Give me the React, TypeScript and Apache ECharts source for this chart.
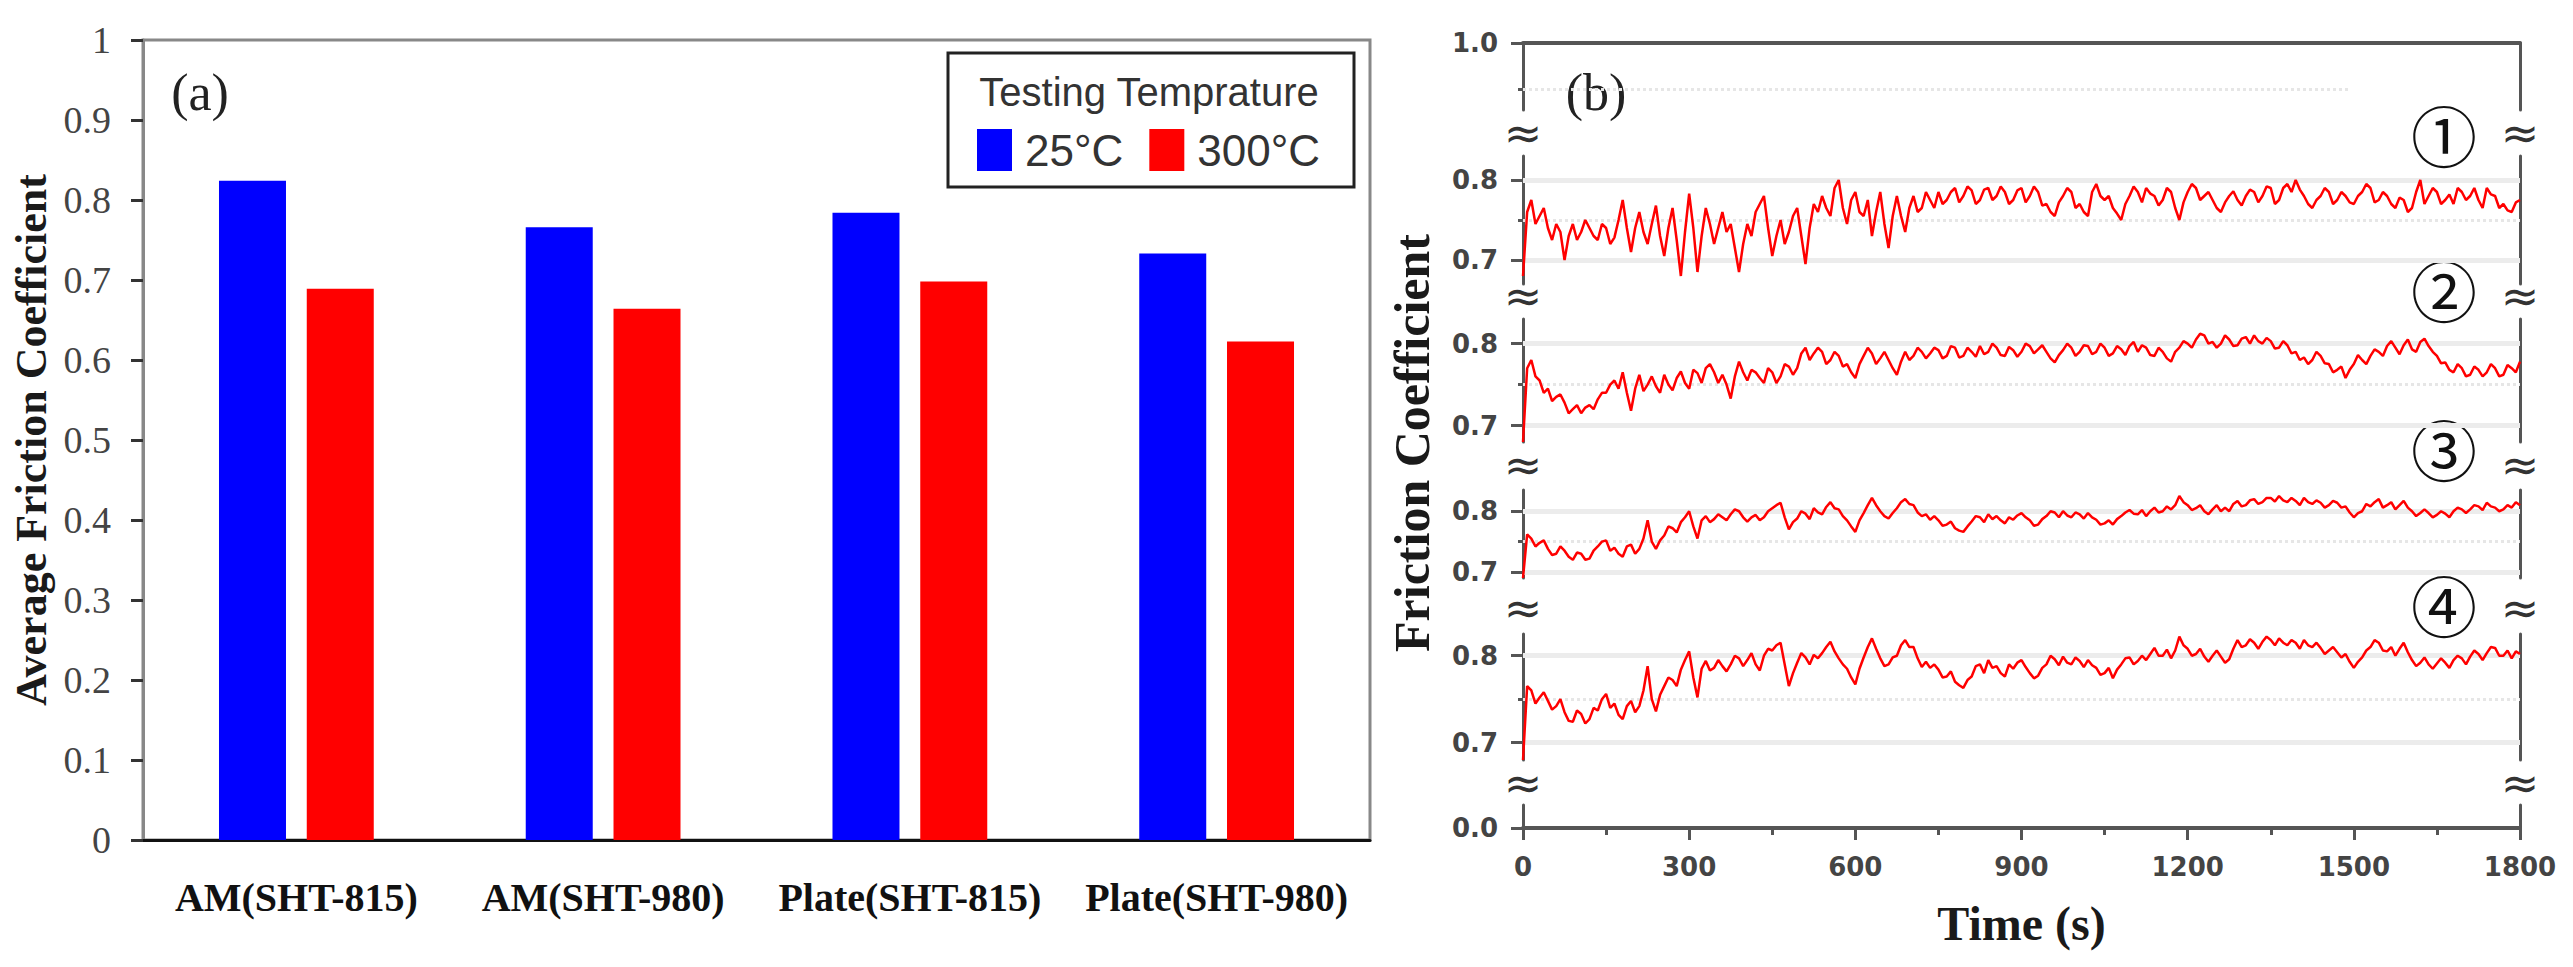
import React, { useEffect, useRef } from 'react';
import * as echarts from 'echarts';

// (a) average friction coefficient per sample
const categories = ['AM(SHT-815)', 'AM(SHT-980)', 'Plate(SHT-815)', 'Plate(SHT-980)'];
const seriesNames = ['25°C', '300°C'];
const avgAt25 = [0.824, 0.766, 0.784, 0.733];
const avgAt300 = [0.689, 0.664, 0.698, 0.623];

// (b) friction traces, one value every 7.5 s from 0 to 1800 s
const sampleStep = 7.5;
const trace1 = [
  0.68, 0.76, 0.775, 0.745, 0.755, 0.765, 0.74, 0.725, 0.745, 0.735, 0.70, 0.73, 0.745, 0.725, 0.735, 0.75, 0.74, 0.73, 0.725, 0.745,
  0.74, 0.72, 0.728, 0.75, 0.775, 0.74, 0.71, 0.74, 0.76, 0.735, 0.72, 0.745, 0.768, 0.73, 0.705, 0.74, 0.765, 0.725, 0.68, 0.735,
  0.783, 0.74, 0.685, 0.73, 0.765, 0.745, 0.72, 0.74, 0.76, 0.735, 0.745, 0.715, 0.685, 0.72, 0.745, 0.73, 0.76, 0.77, 0.78, 0.74,
  0.705, 0.73, 0.75, 0.72, 0.735, 0.755, 0.765, 0.73, 0.695, 0.74, 0.77, 0.76, 0.78, 0.765, 0.755, 0.79, 0.80, 0.765, 0.745, 0.775,
  0.785, 0.76, 0.755, 0.775, 0.73, 0.76, 0.785, 0.745, 0.715, 0.755, 0.78, 0.755, 0.735, 0.765, 0.78, 0.76, 0.765, 0.785, 0.775, 0.765,
  0.785, 0.77, 0.775, 0.785, 0.79, 0.772, 0.78, 0.792, 0.787, 0.77, 0.775, 0.788, 0.79, 0.775, 0.78, 0.792, 0.785, 0.77, 0.775, 0.787,
  0.79, 0.772, 0.78, 0.792, 0.785, 0.768, 0.77, 0.76, 0.755, 0.772, 0.78, 0.79, 0.785, 0.765, 0.77, 0.76, 0.755, 0.785, 0.795, 0.78,
  0.775, 0.78, 0.765, 0.758, 0.75, 0.77, 0.78, 0.792, 0.785, 0.772, 0.79, 0.783, 0.78, 0.768, 0.775, 0.79, 0.785, 0.765, 0.75, 0.772,
  0.785, 0.795, 0.79, 0.775, 0.78, 0.785, 0.775, 0.765, 0.76, 0.772, 0.78, 0.786, 0.775, 0.768, 0.78, 0.788, 0.785, 0.772, 0.78, 0.792,
  0.79, 0.77, 0.775, 0.79, 0.795, 0.785, 0.80, 0.788, 0.78, 0.77, 0.765, 0.775, 0.78, 0.79, 0.785, 0.77, 0.775, 0.785, 0.78, 0.772,
  0.77, 0.78, 0.785, 0.795, 0.79, 0.772, 0.775, 0.785, 0.78, 0.77, 0.765, 0.778, 0.775, 0.76, 0.765, 0.785, 0.80, 0.77, 0.78, 0.79,
  0.785, 0.77, 0.775, 0.782, 0.77, 0.79, 0.785, 0.775, 0.78, 0.79, 0.775, 0.765, 0.79, 0.782, 0.78, 0.765, 0.77, 0.762, 0.76, 0.772,
  0.775,
];
const trace2 = [
  0.68, 0.77, 0.78, 0.76, 0.755, 0.74, 0.745, 0.73, 0.735, 0.738, 0.728, 0.715, 0.72, 0.725, 0.715, 0.722, 0.725, 0.72, 0.732, 0.74,
  0.74, 0.75, 0.755, 0.745, 0.765, 0.74, 0.718, 0.745, 0.762, 0.742, 0.75, 0.76, 0.748, 0.74, 0.762, 0.75, 0.743, 0.758, 0.766, 0.752,
  0.745, 0.768, 0.764, 0.752, 0.77, 0.775, 0.765, 0.752, 0.762, 0.75, 0.733, 0.76, 0.778, 0.765, 0.755, 0.768, 0.765, 0.758, 0.752, 0.77,
  0.765, 0.752, 0.76, 0.775, 0.772, 0.762, 0.77, 0.788, 0.795, 0.78, 0.788, 0.795, 0.79, 0.775, 0.78, 0.79, 0.785, 0.772, 0.775, 0.765,
  0.758, 0.775, 0.785, 0.795, 0.788, 0.775, 0.782, 0.79, 0.78, 0.77, 0.762, 0.778, 0.79, 0.78, 0.785, 0.795, 0.79, 0.782, 0.788, 0.795,
  0.792, 0.782, 0.785, 0.797, 0.795, 0.783, 0.785, 0.795, 0.79, 0.784, 0.797, 0.787, 0.79, 0.80, 0.795, 0.786, 0.785, 0.796, 0.792, 0.784,
  0.79, 0.80, 0.797, 0.788, 0.793, 0.798, 0.79, 0.782, 0.777, 0.786, 0.792, 0.80, 0.795, 0.785, 0.79, 0.798, 0.797, 0.787, 0.79, 0.80,
  0.795, 0.785, 0.788, 0.797, 0.793, 0.786, 0.797, 0.802, 0.79, 0.798, 0.795, 0.786, 0.785, 0.795, 0.79, 0.782, 0.778, 0.79, 0.795, 0.803,
  0.80, 0.795, 0.805, 0.812, 0.81, 0.80, 0.802, 0.795, 0.80, 0.81, 0.805, 0.797, 0.798, 0.806, 0.808, 0.80, 0.81, 0.803, 0.80, 0.807,
  0.803, 0.794, 0.795, 0.803, 0.798, 0.788, 0.79, 0.78, 0.783, 0.775, 0.78, 0.79, 0.785, 0.776, 0.775, 0.765, 0.768, 0.772, 0.758, 0.768,
  0.775, 0.786, 0.78, 0.775, 0.785, 0.793, 0.79, 0.785, 0.797, 0.803, 0.795, 0.787, 0.798, 0.805, 0.793, 0.79, 0.802, 0.806, 0.797, 0.79,
  0.785, 0.776, 0.777, 0.768, 0.765, 0.775, 0.77, 0.76, 0.762, 0.772, 0.768, 0.76, 0.765, 0.775, 0.77, 0.76, 0.762, 0.774, 0.77, 0.765,
  0.778,
];
const trace3 = [
  0.69, 0.762, 0.755, 0.742, 0.748, 0.752, 0.738, 0.728, 0.73, 0.742, 0.735, 0.725, 0.72, 0.732, 0.73, 0.72, 0.722, 0.735, 0.742, 0.75,
  0.752, 0.735, 0.74, 0.73, 0.725, 0.742, 0.745, 0.73, 0.738, 0.755, 0.785, 0.75, 0.738, 0.752, 0.76, 0.775, 0.772, 0.765, 0.782, 0.79,
  0.80, 0.775, 0.755, 0.785, 0.792, 0.782, 0.787, 0.795, 0.79, 0.785, 0.795, 0.803, 0.80, 0.79, 0.783, 0.79, 0.794, 0.785, 0.79, 0.80,
  0.805, 0.81, 0.814, 0.79, 0.77, 0.782, 0.788, 0.80, 0.796, 0.787, 0.805, 0.798, 0.795, 0.807, 0.815, 0.805, 0.803, 0.792, 0.785, 0.775,
  0.766, 0.785, 0.797, 0.81, 0.822, 0.81, 0.80, 0.792, 0.788, 0.797, 0.805, 0.815, 0.82, 0.812, 0.81, 0.798, 0.792, 0.795, 0.786, 0.792,
  0.785, 0.776, 0.778, 0.783, 0.772, 0.768, 0.766, 0.775, 0.783, 0.792, 0.79, 0.782, 0.795, 0.787, 0.792, 0.785, 0.78, 0.79, 0.786, 0.793,
  0.797, 0.79, 0.785, 0.776, 0.778, 0.787, 0.792, 0.80, 0.798, 0.79, 0.80, 0.793, 0.79, 0.798, 0.795, 0.788, 0.797, 0.79, 0.786, 0.778,
  0.78, 0.785, 0.778, 0.787, 0.792, 0.798, 0.802, 0.796, 0.795, 0.802, 0.792, 0.80, 0.806, 0.798, 0.80, 0.808, 0.803, 0.81, 0.825, 0.815,
  0.81, 0.802, 0.805, 0.81, 0.80, 0.795, 0.803, 0.81, 0.80, 0.806, 0.80, 0.812, 0.817, 0.808, 0.81, 0.818, 0.82, 0.812, 0.815, 0.822,
  0.822, 0.816, 0.825, 0.818, 0.815, 0.822, 0.817, 0.81, 0.822, 0.815, 0.812, 0.818, 0.814, 0.806, 0.81, 0.817, 0.814, 0.806, 0.808, 0.798,
  0.79, 0.797, 0.80, 0.812, 0.808, 0.815, 0.82, 0.806, 0.81, 0.815, 0.803, 0.81, 0.817, 0.806, 0.80, 0.792, 0.797, 0.803, 0.797, 0.79,
  0.794, 0.80, 0.796, 0.79, 0.80, 0.806, 0.803, 0.797, 0.803, 0.81, 0.808, 0.802, 0.814, 0.808, 0.806, 0.80, 0.803, 0.81, 0.806, 0.815,
  0.81,
];
const trace4 = [
  0.68, 0.765, 0.76, 0.745, 0.752, 0.758, 0.748, 0.738, 0.742, 0.75, 0.735, 0.725, 0.724, 0.737, 0.733, 0.722, 0.727, 0.74, 0.737, 0.75,
  0.756, 0.74, 0.745, 0.732, 0.727, 0.742, 0.748, 0.735, 0.742, 0.76, 0.788, 0.75, 0.736, 0.755, 0.765, 0.775, 0.772, 0.765, 0.784, 0.795,
  0.805, 0.775, 0.752, 0.785, 0.794, 0.783, 0.786, 0.795, 0.788, 0.782, 0.79, 0.80, 0.797, 0.788, 0.795, 0.803, 0.79, 0.783, 0.80, 0.808,
  0.806, 0.812, 0.815, 0.79, 0.765, 0.78, 0.792, 0.803, 0.798, 0.79, 0.801, 0.797, 0.803, 0.81, 0.816, 0.805, 0.797, 0.79, 0.785, 0.775,
  0.767, 0.785, 0.798, 0.81, 0.82, 0.808, 0.797, 0.788, 0.79, 0.798, 0.80, 0.812, 0.818, 0.81, 0.81, 0.797, 0.787, 0.793, 0.786, 0.79,
  0.784, 0.775, 0.776, 0.782, 0.77, 0.766, 0.763, 0.772, 0.776, 0.788, 0.79, 0.78, 0.795, 0.786, 0.788, 0.78, 0.776, 0.79, 0.785, 0.792,
  0.795, 0.787, 0.78, 0.774, 0.777, 0.786, 0.79, 0.80, 0.796, 0.789, 0.799, 0.792, 0.79, 0.798, 0.794, 0.787, 0.795, 0.789, 0.786, 0.778,
  0.78, 0.786, 0.774, 0.784, 0.79, 0.797, 0.798, 0.79, 0.794, 0.80, 0.795, 0.802, 0.809, 0.80, 0.80, 0.807, 0.797, 0.806, 0.822, 0.812,
  0.808, 0.80, 0.802, 0.808, 0.799, 0.793, 0.80, 0.806, 0.799, 0.792, 0.796, 0.808, 0.818, 0.81, 0.812, 0.819, 0.815, 0.808, 0.816, 0.822,
  0.818, 0.812, 0.82, 0.815, 0.812, 0.818, 0.815, 0.808, 0.818, 0.812, 0.81, 0.815, 0.809, 0.802, 0.806, 0.81, 0.804, 0.798, 0.802, 0.793,
  0.786, 0.793, 0.798, 0.806, 0.81, 0.818, 0.815, 0.806, 0.805, 0.81, 0.80, 0.808, 0.815, 0.804, 0.795, 0.788, 0.792, 0.798, 0.79, 0.785,
  0.791, 0.797, 0.792, 0.786, 0.795, 0.80, 0.797, 0.79, 0.799, 0.806, 0.802, 0.795, 0.803, 0.81, 0.809, 0.80, 0.80, 0.806, 0.797, 0.805,
  0.802,
];
const traces = [trace1, trace2, trace3, trace4];
const traceLabels = ['①', '②', '③', '④'];
const traceTickLabels = [0.7, 0.8];
const traceMinorTicks = [0.75];

// broken y axis of (b): one band per segment
const segments = [
  { top: 43, height: 67, min: 0.855, max: 1.0, labels: [1.0], minor: [0.9] },
  { top: 156, height: 128, min: 0.67, max: 0.83, labels: traceTickLabels, minor: traceMinorTicks },
  { top: 319, height: 123, min: 0.68, max: 0.83, labels: traceTickLabels, minor: traceMinorTicks },
  { top: 490, height: 88, min: 0.69, max: 0.835, labels: traceTickLabels, minor: traceMinorTicks },
  { top: 634, height: 126, min: 0.68, max: 0.825, labels: traceTickLabels, minor: traceMinorTicks },
  { top: 805, height: 23, min: 0, max: 0.03, labels: [0], minor: [] as number[] },
];
const breakYs = [133, 296, 465, 608, 783];
const circleYs = [133, 288, 447, 603];

const axisGray = '#555';
const bTick = { fontFamily: 'DejaVu Sans', fontWeight: 'bold', fontSize: 26, color: '#444' };

const App = () => {
  const chartRef = useRef<HTMLDivElement>(null);

  useEffect(() => {
    document.body.style.margin = '0';
    const chart = echarts.init(chartRef.current, null, { renderer: 'svg' });
    const last = segments.length - 1;

    const grids: any[] = [
      { left: 143, right: 1203, top: 40, bottom: 127, show: true, borderColor: '#888', borderWidth: 3 },
    ];
    const xAxes: any[] = [
      {
        type: 'category',
        gridIndex: 0,
        data: categories,
        axisLine: { lineStyle: { color: '#111', width: 3 } },
        axisTick: { show: false },
        axisLabel: {
          interval: 0, margin: 37, color: '#111',
          fontFamily: 'Liberation Serif', fontWeight: 'bold', fontSize: 40,
        },
      },
    ];
    const yAxes: any[] = [
      {
        type: 'value',
        gridIndex: 0,
        min: 0,
        max: 1,
        interval: 0.1,
        name: 'Average Friction Coefficient',
        nameLocation: 'middle',
        nameGap: 90,
        nameTextStyle: { fontFamily: 'Liberation Serif', fontWeight: 'bold', fontSize: 44, color: '#1a1a1a' },
        axisLine: { show: true, lineStyle: { color: '#888', width: 3 } },
        axisTick: { show: true, length: 12, lineStyle: { color: '#333', width: 3 } },
        axisLabel: { margin: 32, fontFamily: 'Liberation Serif', fontSize: 38, color: '#444' },
        splitLine: { show: false },
      },
    ];
    const series: any[] = [
      { name: seriesNames[0], type: 'bar', xAxisIndex: 0, yAxisIndex: 0, data: avgAt25, barWidth: 67, barGap: '31%', itemStyle: { color: '#0000ff' } },
      { name: seriesNames[1], type: 'bar', xAxisIndex: 0, yAxisIndex: 0, data: avgAt300, barWidth: 67, barGap: '31%', itemStyle: { color: '#ff0000' } },
    ];

    segments.forEach((s, j) => {
      const g = j + 1;
      grids.push({ left: 1523, right: 53, top: s.top, height: s.height });
      const isBottom = j === last;
      xAxes.push({
        type: 'value',
        gridIndex: g,
        min: 0,
        max: 1800,
        interval: 300,
        position: j === 0 ? 'top' : 'bottom',
        axisLine: { show: j === 0 || isBottom, onZero: false, lineStyle: { color: axisGray, width: 4 } },
        axisTick: { show: isBottom, length: 12, lineStyle: { color: axisGray, width: 3 } },
        minorTick: { show: isBottom, splitNumber: 2, length: 7, lineStyle: { color: axisGray, width: 3 } },
        axisLabel: { show: isBottom, margin: 26, formatter: (v: number) => String(v), ...bTick },
        splitLine: { show: false },
        name: isBottom ? 'Time (s)' : '',
        nameLocation: 'middle',
        nameGap: 71,
        nameTextStyle: { fontFamily: 'Liberation Serif', fontWeight: 'bold', fontSize: 48, color: '#1a1a1a' },
      });
      yAxes.push({
        type: 'value', gridIndex: g, min: s.min, max: s.max, position: 'left',
        axisLine: { show: true, onZero: false, lineStyle: { color: axisGray, width: 3 } },
        axisTick: { show: true, customValues: s.labels, length: 12, lineStyle: { color: axisGray, width: 3 } },
        axisLabel: { customValues: s.labels, formatter: (v: number) => v.toFixed(1), margin: 25, ...bTick },
        splitLine: { show: false },
      });
      yAxes.push({
        type: 'value', gridIndex: g, min: s.min, max: s.max, position: 'left',
        axisLine: { show: false },
        axisTick: { show: s.minor.length > 0, customValues: s.minor, length: 5, lineStyle: { color: axisGray, width: 3 } },
        axisLabel: { show: false },
        splitLine: { show: false },
      });
      yAxes.push({
        type: 'value', gridIndex: g, min: s.min, max: s.max, position: 'right',
        axisLine: { show: true, onZero: false, lineStyle: { color: axisGray, width: 3 } },
        axisTick: { show: false },
        axisLabel: { show: false },
        splitLine: { show: false },
      });
    });

    // faint 0.9 guide in the top band
    series.push({
      type: 'line',
      xAxisIndex: 1,
      yAxisIndex: 1,
      data: [],
      silent: true,
      markLine: {
        z: 1,
        silent: true,
        symbol: ['none', 'none'],
        label: { show: false },
        lineStyle: { color: '#e6e6e6', width: 3, type: 'dotted' },
        data: [[{ coord: [0, 0.9] }, { coord: [1490, 0.9] }]],
      },
    });

    traces.forEach((vals, k) => {
      const j = k + 1;
      series.push({
        name: 'trace' + (k + 1),
        type: 'line',
        xAxisIndex: j + 1,
        yAxisIndex: 1 + 3 * j,
        data: vals.map((v, i) => [i * sampleStep, v]),
        showSymbol: false,
        lineStyle: { color: '#ff0000', width: 2.5 },
        z: 3,
        markLine: {
          z: 1,
          silent: true,
          symbol: ['none', 'none'],
          label: { show: false },
          data: [
            { yAxis: 0.8, lineStyle: { color: '#ececec', width: 5, type: 'solid' } },
            { yAxis: 0.7, lineStyle: { color: '#ececec', width: 5, type: 'solid' } },
            { yAxis: 0.75, lineStyle: { color: '#e6e6e6', width: 3, type: 'dotted' } },
          ],
        },
      });
    });

    const txt = (text: string, x: number, y: number, style: any, extra: any = {}) => ({
      type: 'text',
      x,
      y,
      ...extra,
      style: {
        text,
        textAlign: 'center',
        textVerticalAlign: 'middle',
        align: 'center',
        verticalAlign: 'middle',
        ...style,
      },
    });

    const graphics: any[] = [
      // legend frame and title
      { type: 'rect', shape: { x: 948, y: 53, width: 406, height: 134 }, style: { fill: 'none', stroke: '#222', lineWidth: 3 } },
      txt('Testing Temprature', 1149, 92, { fontFamily: 'Liberation Sans', fontSize: 40, fill: '#333' }),
      txt('(a)', 200, 92, { fontFamily: 'Liberation Serif', fontSize: 52, fill: '#222' }),
      txt('(b)', 1596, 92, { fontFamily: 'Liberation Serif', fontSize: 52, fill: '#222' }),
      txt('Friction Coefficient', 1412, 443, { fontFamily: 'Liberation Serif', fontWeight: 'bold', fontSize: 50, fill: '#1a1a1a' }, { rotation: Math.PI / 2 }),
    ];
    breakYs.forEach((y) => {
      [1523, 2520].forEach((x) => {
        graphics.push(txt('≈', x, y, { fontFamily: 'DejaVu Sans', fontSize: 46, fill: '#333' }));
      });
    });
    traceLabels.forEach((label, k) => {
      graphics.push(txt(label, 2444, circleYs[k], { fontFamily: 'Noto Sans CJK JP', fontSize: 66, fill: '#111' }));
    });

    chart.setOption({
      animation: false,
      backgroundColor: '#fff',
      grid: grids,
      xAxis: xAxes,
      yAxis: yAxes,
      legend: {
        data: seriesNames,
        left: 977,
        top: 128,
        padding: 0,
        icon: 'rect',
        itemWidth: 35,
        itemHeight: 42,
        itemGap: 26,
        selectedMode: false,
        textStyle: { fontFamily: 'Liberation Sans', fontSize: 44, color: '#333', padding: [0, 0, 0, 8] },
      },
      graphic: { elements: graphics },
      series,
    });

    const onResize = () => chart.resize();
    window.addEventListener('resize', onResize);
    return () => {
      window.removeEventListener('resize', onResize);
      chart.dispose();
    };
  }, []);

  return <div ref={chartRef} style={{ width: '2573px', height: '967px' }}></div>;
};

export default App;
